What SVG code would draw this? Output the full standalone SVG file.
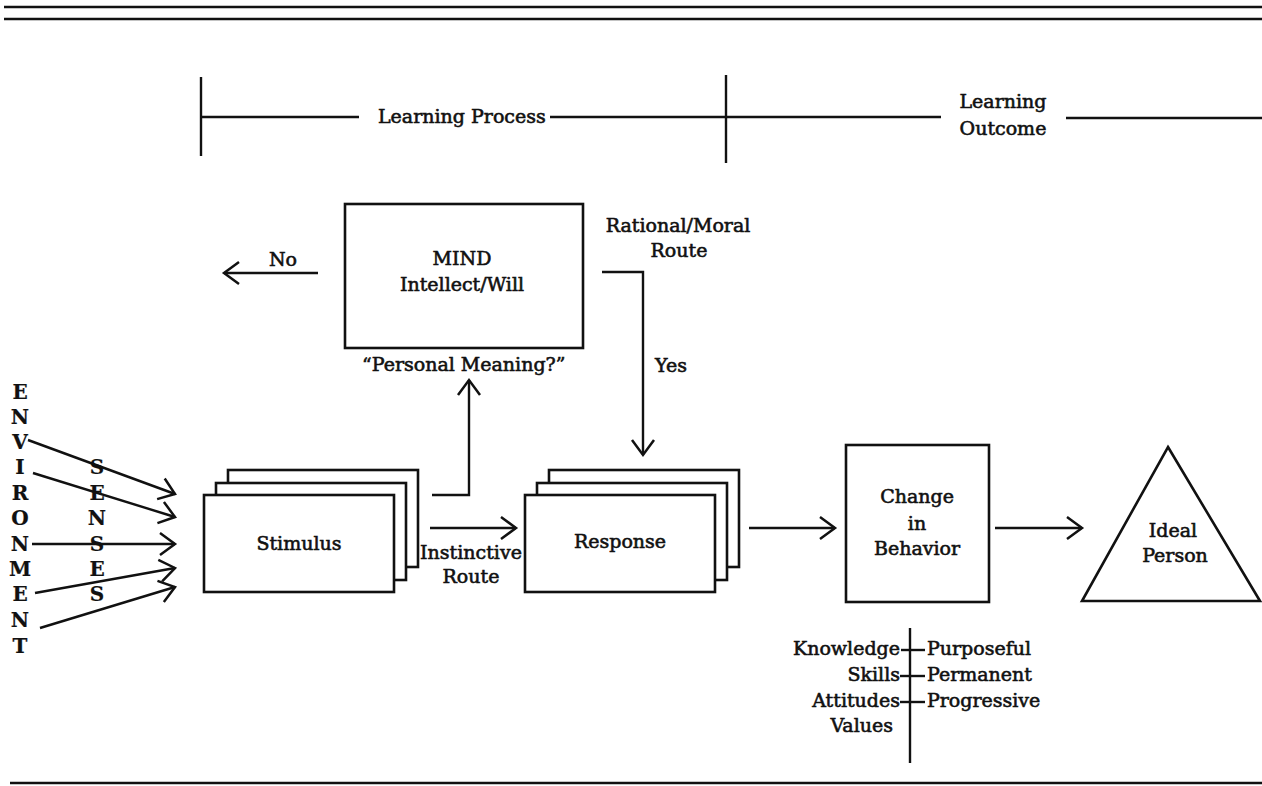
<svg xmlns="http://www.w3.org/2000/svg" width="1262" height="786" viewBox="0 0 1262 786">
  <style>
    .t { font-family: "DejaVu Serif", "Liberation Serif", serif; font-size: 19px; fill: #111; stroke: #111; stroke-width: 0.6; }
    .c { text-anchor: middle; }
    .r { text-anchor: end; }
    .b { font-weight: bold; font-size: 20px; stroke-width: 0.2; }
    .ln { stroke: #111; stroke-width: 2.4; fill: none; }
    .rule { stroke: #111; stroke-width: 2.6; fill: none; }
    .box { stroke: #111; stroke-width: 2.6; fill: #fff; }
  </style>
  <defs>
    <marker id="chev" markerUnits="userSpaceOnUse" viewBox="-20 -20 40 40" markerWidth="40" markerHeight="40" refX="0" refY="0" orient="auto" overflow="visible">
      <path d="M-15 -11 L0 0 L-15 11" fill="none" stroke="#111" stroke-width="2.5"/>
    </marker>
  </defs>

  <rect width="1262" height="786" fill="#fff"/>

  <!-- page rules -->
  <g id="rules">
    <line class="rule" x1="4" y1="7" x2="1262" y2="7"/>
    <line class="rule" x1="4" y1="19" x2="1262" y2="19"/>
    <line class="rule" x1="10" y1="783" x2="1262" y2="783"/>
  </g>

  <!-- phase header -->
  <g id="learning-process">
    <line class="ln" x1="201" y1="77" x2="201" y2="156"/>
    <line class="ln" x1="201" y1="117" x2="359" y2="117"/>
    <text class="t" x="378" y="123">Learning Process</text>
    <line class="ln" x1="550" y1="117" x2="726" y2="117"/>
    <line class="ln" x1="726" y1="75" x2="726" y2="163"/>
  </g>
  <g id="learning-outcome">
    <line class="ln" x1="726" y1="117" x2="941" y2="117"/>
    <text class="t c" x="1003" y="108">Learning</text>
    <text class="t c" x="1003" y="135">Outcome</text>
    <line class="ln" x1="1066" y1="118" x2="1262" y2="118"/>
  </g>

  <!-- environment column -->
  <g id="environment" class="t c b">
    <text x="20" y="399">E</text>
    <text x="20" y="424">N</text>
    <text x="20" y="449">V</text>
    <text x="20" y="474">I</text>
    <text x="20" y="500">R</text>
    <text x="20" y="525">O</text>
    <text x="20" y="551">N</text>
    <text x="20" y="576">M</text>
    <text x="20" y="601">E</text>
    <text x="20" y="627">N</text>
    <text x="20" y="653">T</text>
  </g>

  <!-- senses column -->
  <g id="senses" class="t c b">
    <text x="97" y="474">S</text>
    <text x="97" y="500">E</text>
    <text x="97" y="525">N</text>
    <text x="97" y="551">S</text>
    <text x="97" y="576">E</text>
    <text x="97" y="601">S</text>
  </g>

  <!-- stimulus stack -->
  <g id="stimulus">
    <rect class="box" x="228" y="470" width="190" height="97"/>
    <rect class="box" x="216" y="483" width="190" height="97"/>
    <rect class="box" x="204" y="495" width="190" height="97"/>
    <text class="t c" x="299" y="550">Stimulus</text>
  </g>

  <!-- mind -->
  <g id="mind">
    <rect class="box" x="345" y="204" width="238" height="144"/>
    <text class="t c" x="462" y="265">MIND</text>
    <text class="t c" x="462" y="291">Intellect/Will</text>
    <text class="t" x="362" y="371">“Personal Meaning?”</text>
  </g>

  <!-- response stack -->
  <g id="response">
    <rect class="box" x="549" y="470" width="190" height="97"/>
    <rect class="box" x="537" y="483" width="190" height="97"/>
    <rect class="box" x="525" y="495" width="190" height="97"/>
    <text class="t c" x="620" y="548">Response</text>
  </g>

  <!-- change in behavior -->
  <g id="change-in-behavior">
    <rect class="box" x="846" y="445" width="143" height="157"/>
    <text class="t c" x="917" y="503">Change</text>
    <text class="t c" x="917" y="530">in</text>
    <text class="t c" x="917" y="555">Behavior</text>
  </g>

  <!-- ideal person -->
  <g id="ideal-person">
    <polygon class="box" points="1168,447 1260,601 1082,601"/>
    <text class="t c" x="1173" y="537">Ideal</text>
    <text class="t c" x="1175" y="562">Person</text>
  </g>

  <!-- qualities of behavior change -->
  <g id="behavior-qualities">
    <line class="ln" x1="910" y1="628" x2="910" y2="763"/>
    <line class="ln" x1="901" y1="650" x2="925" y2="650"/>
    <line class="ln" x1="900" y1="676" x2="925" y2="676"/>
    <line class="ln" x1="900" y1="702" x2="925" y2="702"/>
    <text class="t r" x="900" y="655">Knowledge</text>
    <text class="t r" x="900" y="681">Skills</text>
    <text class="t r" x="900" y="707">Attitudes</text>
    <text class="t r" x="893" y="732">Values</text>
    <text class="t" x="927" y="655">Purposeful</text>
    <text class="t" x="927" y="681">Permanent</text>
    <text class="t" x="927" y="707">Progressive</text>
  </g>

  <!-- connectors -->
  <g id="connectors" class="ln" marker-end="url(#chev)">
    <line x1="28" y1="440" x2="175" y2="494"/>
    <line x1="33" y1="473" x2="175" y2="517"/>
    <line x1="32" y1="544" x2="175" y2="544"/>
    <line x1="35" y1="593" x2="175" y2="568"/>
    <line x1="40" y1="628" x2="175" y2="587"/>
    <path d="M432 495 H469 V380"/>
    <line x1="318" y1="273" x2="224" y2="273"/>
    <path d="M602 272 H643 V455"/>
    <line x1="430" y1="528" x2="516" y2="528"/>
    <line x1="749" y1="528" x2="835" y2="528"/>
    <line x1="995" y1="528" x2="1082" y2="528"/>
  </g>

  <!-- connector labels -->
  <g id="connector-labels">
    <text class="t c" x="283" y="266">No</text>
    <text class="t c" x="678" y="232">Rational/Moral</text>
    <text class="t c" x="679" y="257">Route</text>
    <text class="t" x="655" y="372">Yes</text>
    <text class="t c" x="471" y="559">Instinctive</text>
    <text class="t c" x="471" y="583">Route</text>
  </g>
</svg>
